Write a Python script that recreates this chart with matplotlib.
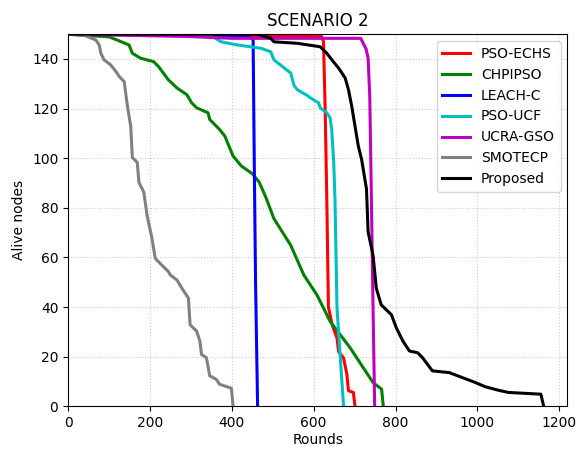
import matplotlib
matplotlib.use("Agg")
import matplotlib.pyplot as plt

# alive nodes vs rounds
pso_echs_x = [0, 400, 620, 624, 628, 632, 636, 645, 657, 661, 673, 681, 685, 697, 701]
pso_echs_y = [150, 149.5, 149, 147, 120, 84, 40, 33, 27.5, 22, 19.5, 13, 6.3, 5.6, 0]

chpipso_x = [0, 28, 100, 120, 149, 157, 177, 209, 221, 245, 266, 290, 302, 314, 342, 346,
             370, 383, 403, 423, 451, 467, 483, 503, 544, 576, 608, 640, 689, 721, 745, 766, 770]
chpipso_y = [150, 149.6, 148.9, 147.6, 145.6, 142.3, 140.3, 138.9, 136.9, 131.6, 128.3, 125.6,
             122.3, 120.3, 118.3, 115.6, 111.6, 108.9, 100.9, 96.9, 93.6, 90.3, 84.3, 75.6,
             64.9, 52.9, 44.9, 34.3, 23.6, 15.6, 9.6, 6.9, 0]

leach_c_x = [0, 300, 440, 452, 455, 458, 463]
leach_c_y = [150, 149.5, 149, 148, 96, 50, 0]

pso_ucf_x = [0, 340, 354, 374, 415, 471, 495, 503, 544, 552, 560, 584, 592, 612, 616, 632,
             640, 644, 649, 652, 657, 665, 673]
pso_ucf_y = [150, 149.5, 148.9, 146.9, 145.6, 144.3, 142.9, 139.6, 134.3, 129.3, 127.6, 125.3,
             124.3, 122.3, 120.3, 118.3, 116.3, 111.6, 98.3, 83.6, 39.6, 19.6, 0]

ucra_gso_x = [0, 300, 400, 715, 728, 733, 737, 741, 745, 749]
ucra_gso_y = [150, 149, 148.3, 148.3, 144, 140.3, 125, 84, 40, 0]

smotecp_x = [0, 40, 68, 76, 80, 88, 104, 117, 125, 137, 145, 153, 157, 169, 173, 185, 193,
             205, 213, 229, 245, 250, 266, 278, 294, 298, 314, 322, 326, 338, 346, 362, 370,
             399, 403]
smotecp_y = [150, 149.5, 147.6, 145.6, 142.3, 139.6, 137.6, 134.9, 132.9, 130.9, 120.9, 112.9,
             100.3, 98.3, 90.3, 86.3, 76.9, 67.6, 59.6, 56.9, 54.3, 52.9, 50.9, 47.6, 43.6,
             32.9, 30.3, 26.3, 20.9, 19.6, 12.3, 10.9, 8.9, 7.3, 0]

proposed_x = [0, 460, 471, 495, 503, 560, 616, 632, 648, 661, 677, 685, 693, 701, 709, 717,
              729, 733, 745, 753, 765, 790, 802, 818, 834, 854, 866, 890, 931, 963, 995, 1019,
              1051, 1076, 1155, 1162]
proposed_y = [150, 150, 149.6, 148.3, 146.9, 146.3, 144.9, 142.3, 138.9, 136.3, 132.3, 127.6,
              120.9, 112.9, 104.9, 99.6, 87.6, 70.3, 60.9, 47.6, 40.9, 36.9, 31.6, 26.3, 22.3,
              21.6, 19.6, 14.3, 13.6, 11.6, 9.6, 7.9, 6.5, 5.6, 4.9, 0]

series = [
    ("PSO-ECHS", pso_echs_x, pso_echs_y, "r"),
    ("CHPIPSO", chpipso_x, chpipso_y, "g"),
    ("LEACH-C", leach_c_x, leach_c_y, "b"),
    ("PSO-UCF", pso_ucf_x, pso_ucf_y, "c"),
    ("UCRA-GSO", ucra_gso_x, ucra_gso_y, "m"),
    ("SMOTECP", smotecp_x, smotecp_y, "gray"),
    ("Proposed", proposed_x, proposed_y, "k"),
]

fig, ax = plt.subplots(figsize=(5.82, 4.49), dpi=100)
fig.subplots_adjust(left=0.117, right=0.975, top=0.924, bottom=0.095)

for name, xs, ys, col in series:
    ax.plot(xs, ys, color=col, lw=2.2, label=name)

ax.set_xlim(0, 1220)
ax.set_ylim(0, 150)
ax.set_xticks(range(0, 1201, 200))
ax.set_yticks(range(0, 141, 20))
ax.grid(True, linestyle=":", color="#cccccc")
ax.set_title("SCENARIO 2")
ax.set_xlabel("Rounds", labelpad=2)
ax.set_ylabel("Alive nodes")
ax.legend(loc="upper right")

fig.savefig("out.png")
